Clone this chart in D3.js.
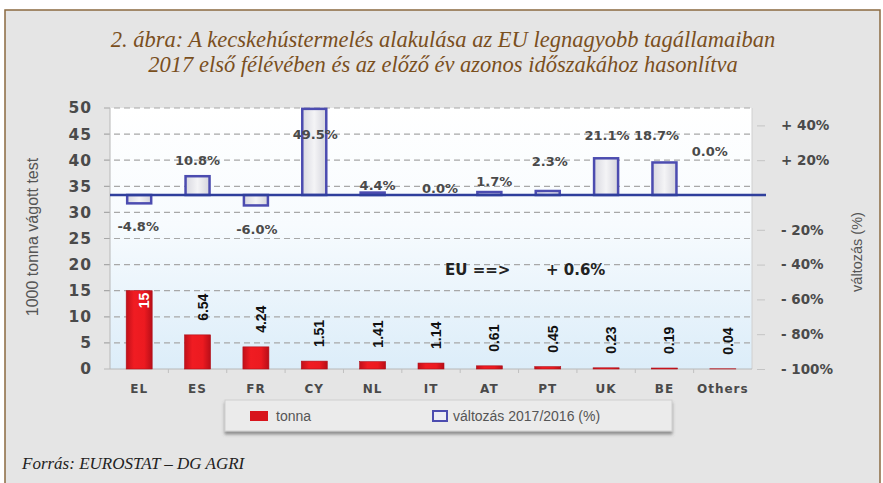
<!DOCTYPE html>
<html>
<head>
<meta charset="utf-8">
<script src="https://cdn.jsdelivr.net/npm/d3@7"></script>
<style>
  body { margin: 0; background: #fff; }
  svg { display: block; }
</style>
</head>
<body>
<svg id="chart" width="883" height="483"></svg>
<script>
// chart data
const categories = ["EL", "ES", "FR", "CY", "NL", "IT", "AT", "PT", "UK", "BE", "Others"];
const tonnes = [15, 6.54, 4.24, 1.51, 1.41, 1.14, 0.61, 0.45, 0.23, 0.19, 0.04];
const tonneLabels = ["15", "6.54", "4.24", "1.51", "1.41", "1.14", "0.61", "0.45", "0.23", "0.19", "0.04"];
const change = [-4.8, 10.8, -6.0, 49.5, 1.4, 0.0, 1.7, 2.3, 21.1, 18.7, 0.0];
const changeLabels = ["-4.8%", "10.8%", "-6.0%", "49.5%", "4.4%", "0.0%", "1.7%", "2.3%", "21.1%", "18.7%", "0.0%"];
const leftTicks = [0, 5, 10, 15, 20, 25, 30, 35, 40, 45, 50];
const rightTicks = [40, 20, -20, -40, -60, -80, -100];
const rightTickLabels = ["+ 40%", "+ 20%", "- 20%", "- 40%", "- 60%", "- 80%", "- 100%"];

// hand placement of the % labels (as in the source chart)
const labelDy = [23, -16, 24, 26, -7, -7, -11, -30, -23, -27, -44];
const labelDx = [-1, 0, 1, 1, 5, 9, 5, 2, 1, -8, -13];

const svg = d3.select("#chart");
const defs = svg.append("defs");

// plot background: white fading to light blue
const bg = defs.append("linearGradient").attr("id", "plotBg")
  .attr("x1", 0).attr("y1", 0).attr("x2", 0).attr("y2", 1);
bg.append("stop").attr("offset", "0%").attr("stop-color", "#ffffff");
bg.append("stop").attr("offset", "45%").attr("stop-color", "#f7fbfe");
bg.append("stop").attr("offset", "100%").attr("stop-color", "#dcedf9");

const redGrad = defs.append("linearGradient").attr("id", "redBar")
  .attr("x1", 0).attr("y1", 0).attr("x2", 1).attr("y2", 0);
redGrad.append("stop").attr("offset", "0%").attr("stop-color", "#c0101a");
redGrad.append("stop").attr("offset", "30%").attr("stop-color", "#f01c22");
redGrad.append("stop").attr("offset", "70%").attr("stop-color", "#ec1a20");
redGrad.append("stop").attr("offset", "100%").attr("stop-color", "#b80e18");

const boxGrad = defs.append("linearGradient").attr("id", "boxBar")
  .attr("x1", 0).attr("y1", 0).attr("x2", 1).attr("y2", 0);
boxGrad.append("stop").attr("offset", "0%").attr("stop-color", "#d8d8e0");
boxGrad.append("stop").attr("offset", "50%").attr("stop-color", "#f4f4f6");
boxGrad.append("stop").attr("offset", "100%").attr("stop-color", "#d4d4dc");

const shadow = defs.append("filter").attr("id", "shadow")
  .attr("x", "-5%").attr("y", "-20%").attr("width", "110%").attr("height", "160%");
shadow.append("feDropShadow").attr("dx", 0).attr("dy", 3).attr("stdDeviation", 1.5)
  .attr("flood-color", "#555").attr("flood-opacity", 0.6);

// outer frame
svg.append("rect")
  .attr("x", 5).attr("y", 10).attr("width", 875).attr("height", 490)
  .attr("fill", "#e5e5e5").attr("stroke", "#8a6a40").attr("stroke-width", 1.5);

// title
const title = svg.append("text")
  .attr("text-anchor", "middle")
  .attr("font-family", "'Liberation Serif', 'DejaVu Serif', serif")
  .attr("font-style", "italic")
  .attr("font-size", 22.5)
  .attr("fill", "#7a4f1d");
title.append("tspan").attr("x", 443).attr("y", 47)
  .text("2. ábra: A kecskehústermelés alakulása az EU legnagyobb tagállamaiban");
title.append("tspan").attr("x", 443).attr("y", 72)
  .text("2017 első félévében és az előző év azonos időszakához hasonlítva");

// plot frame
const plotLeft = 110, plotRight = 752, plotTop = 108, plotBottom = 369;

const x = d3.scaleBand().domain(categories).range([plotLeft, plotRight]);
const yLeft = d3.scaleLinear().domain([0, 50]).range([plotBottom, plotTop]);
const yRight = d3.scaleLinear().domain([-100, 50]).range([plotBottom, plotTop]);

svg.append("rect")
  .attr("x", plotLeft).attr("y", plotTop)
  .attr("width", plotRight - plotLeft).attr("height", plotBottom - plotTop)
  .attr("fill", "url(#plotBg)");

// dashed grid
svg.append("g")
  .selectAll("line")
  .data(leftTicks.filter(d => d > 0))
  .join("line")
  .attr("x1", plotLeft - 6).attr("x2", plotRight)
  .attr("y1", d => yLeft(d)).attr("y2", d => yLeft(d))
  .attr("stroke", "#a8a8a8").attr("stroke-width", 1.2)
  .attr("stroke-dasharray", "6,4");

// axis lines
svg.append("line")
  .attr("x1", plotLeft).attr("x2", plotLeft).attr("y1", plotTop).attr("y2", plotBottom)
  .attr("stroke", "#b8b8b8").attr("stroke-width", 1);
svg.append("line")
  .attr("x1", plotRight).attr("x2", plotRight).attr("y1", plotTop).attr("y2", plotBottom)
  .attr("stroke", "#d0d0d0").attr("stroke-width", 1);
svg.append("line")
  .attr("x1", plotLeft - 6).attr("x2", plotRight).attr("y1", plotBottom).attr("y2", plotBottom)
  .attr("stroke", "#b8b8b8").attr("stroke-width", 1);

// left axis
const axisL = svg.append("g")
  .attr("transform", "translate(" + plotLeft + ",0)")
  .call(d3.axisLeft(yLeft).tickValues(leftTicks).tickSize(0).tickPadding(18));
axisL.select(".domain").remove();
axisL.selectAll("text")
  .attr("font-family", "'DejaVu Sans', sans-serif")
  .attr("font-weight", "bold")
  .attr("font-size", 15.5)
  .attr("letter-spacing", 1)
  .attr("fill", "#4a4a4a");

// right axis
const axisR = svg.append("g")
  .attr("transform", "translate(" + (plotRight + 5) + ",0)")
  .call(d3.axisRight(yRight).tickValues(rightTicks).tickSize(8).tickPadding(16)
    .tickFormat((d, i) => rightTickLabels[i]));
axisR.select(".domain").remove();
axisR.selectAll("line").attr("stroke", "#c4c4c4");
axisR.selectAll("text")
  .attr("font-family", "'DejaVu Sans', sans-serif")
  .attr("font-weight", "bold")
  .attr("font-size", 13.5)
  .attr("fill", "#4a4a4a");

// category axis
const axisB = svg.append("g")
  .attr("transform", "translate(0," + plotBottom + ")")
  .call(d3.axisBottom(x).tickSize(0).tickPadding(15));
axisB.select(".domain").remove();
axisB.selectAll("text")
  .attr("font-family", "'DejaVu Sans', sans-serif")
  .attr("font-weight", "bold")
  .attr("font-size", 12)
  .attr("letter-spacing", 1)
  .attr("fill", "#4a4a4a");
svg.append("g")
  .selectAll("line")
  .data(categories.slice(1))
  .join("line")
  .attr("x1", d => x(d)).attr("x2", d => x(d))
  .attr("y1", plotBottom).attr("y2", plotBottom + 4)
  .attr("stroke", "#c0c0c0");

// axis titles
svg.append("text")
  .attr("transform", "translate(38,237) rotate(-90)")
  .attr("text-anchor", "middle")
  .attr("font-family", "'Liberation Sans', Arial, sans-serif")
  .attr("font-size", 16)
  .attr("fill", "#555")
  .text("1000 tonna vágott test");
svg.append("text")
  .attr("transform", "translate(862,252) rotate(-90)")
  .attr("text-anchor", "middle")
  .attr("font-family", "'Liberation Sans', Arial, sans-serif")
  .attr("font-size", 14.5)
  .attr("fill", "#555")
  .text("változás (%)");

// red bars (1000 t)
const barW = 26;
svg.append("g")
  .selectAll("rect")
  .data(tonnes)
  .join("rect")
  .attr("x", (d, i) => x(categories[i]) + (x.bandwidth() - barW) / 2)
  .attr("y", d => yLeft(d))
  .attr("width", barW)
  .attr("height", d => plotBottom - yLeft(d))
  .attr("fill", "url(#redBar)")
  .attr("stroke", "#b0101a").attr("stroke-width", 0.6);

// tonne labels, rotated
svg.append("g")
  .selectAll("text")
  .data(tonnes)
  .join("text")
  .attr("transform", (d, i) => {
    const cx = x(categories[i]) + x.bandwidth() / 2 + 10;
    const y = i === 0 ? yLeft(d) + 2 : yLeft(d) - 14;
    return "translate(" + cx + "," + y + ") rotate(-90)";
  })
  .attr("text-anchor", (d, i) => i === 0 ? "end" : "start")
  .attr("font-family", "'Liberation Sans', Arial, sans-serif")
  .attr("font-weight", "bold")
  .attr("font-size", 14)
  .attr("fill", (d, i) => i === 0 ? "#ffffff" : "#111")
  .text((d, i) => tonneLabels[i]);

// change boxes
const boxW = 24;
svg.append("g")
  .selectAll("rect")
  .data(change)
  .join("rect")
  .attr("x", (d, i) => x(categories[i]) + (x.bandwidth() - boxW) / 2)
  .attr("y", d => yRight(Math.max(d, 0)))
  .attr("width", boxW)
  .attr("height", d => Math.abs(yRight(d) - yRight(0)))
  .attr("fill", "url(#boxBar)")
  .attr("stroke", "#4c4cb0").attr("stroke-width", 2.5);

// zero line for the change series
svg.append("line")
  .attr("x1", plotLeft).attr("x2", plotRight + 14)
  .attr("y1", yRight(0)).attr("y2", yRight(0))
  .attr("stroke", "#2f3f9c").attr("stroke-width", 2.5);

// change labels
svg.append("g")
  .selectAll("text")
  .data(change)
  .join("text")
  .attr("x", (d, i) => x(categories[i]) + x.bandwidth() / 2 + labelDx[i])
  .attr("y", (d, i) => yRight(d) + labelDy[i])
  .attr("dy", "0.35em")
  .attr("text-anchor", "middle")
  .attr("font-family", "'DejaVu Sans', sans-serif")
  .attr("font-weight", "bold")
  .attr("font-size", 13)
  .attr("fill", "#4a4a4a")
  .text((d, i) => changeLabels[i]);

// EU total note
const eu = svg.append("text")
  .attr("y", 275)
  .attr("font-family", "'DejaVu Sans', sans-serif")
  .attr("font-weight", "bold")
  .attr("font-size", 15)
  .attr("fill", "#222");
eu.append("tspan").attr("x", 445).text("EU ==>");
eu.append("tspan").attr("x", 546).text("+ 0.6%");

// legend
const legend = svg.append("g");
legend.append("rect")
  .attr("x", 225).attr("y", 400).attr("width", 447).attr("height", 31)
  .attr("fill", "#ebebeb").attr("stroke", "#cfcfcf")
  .attr("filter", "url(#shadow)");
legend.append("rect")
  .attr("x", 250).attr("y", 411).attr("width", 18).attr("height", 10)
  .attr("fill", "#d8141c");
legend.append("text")
  .attr("x", 276).attr("y", 421)
  .attr("font-family", "'Liberation Sans', Arial, sans-serif")
  .attr("font-size", 14).attr("fill", "#555")
  .text("tonna");
legend.append("rect")
  .attr("x", 433).attr("y", 411).attr("width", 14).attr("height", 10)
  .attr("fill", "#ececf4").attr("stroke", "#4c4cb0").attr("stroke-width", 2);
legend.append("text")
  .attr("x", 453).attr("y", 421)
  .attr("font-family", "'Liberation Sans', Arial, sans-serif")
  .attr("font-size", 14).attr("fill", "#555")
  .text("változás 2017/2016 (%)");

// source
svg.append("text")
  .attr("x", 22).attr("y", 469)
  .attr("font-family", "'Liberation Serif', 'DejaVu Serif', serif")
  .attr("font-style", "italic")
  .attr("font-size", 17)
  .attr("fill", "#222")
  .text("Forrás: EUROSTAT – DG AGRI");
</script>
</body>
</html>
